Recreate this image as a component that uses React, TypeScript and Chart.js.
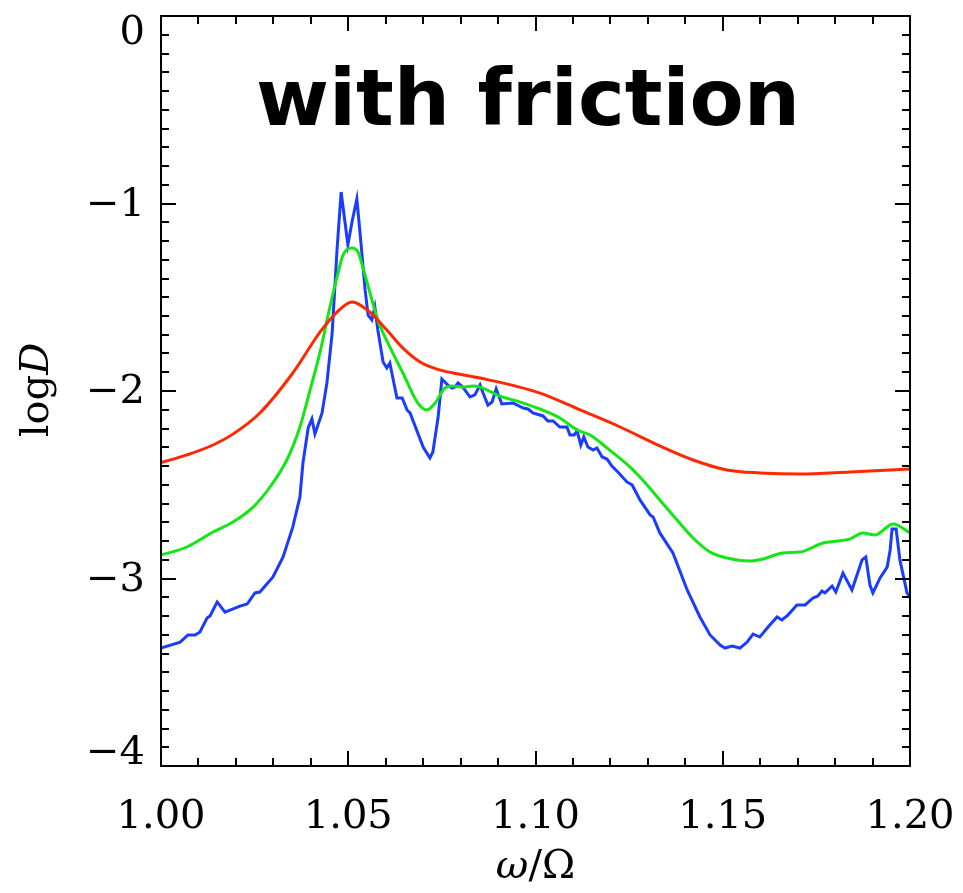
import React, { useEffect, useRef } from 'react';
import { Chart, registerables } from 'chart.js';

Chart.register(...registerables);

const TITLE = 'with friction';
const X_MIN = 1.0;
const X_MAX = 1.2;
const Y_MIN = -4;
const Y_MAX = 0;
const Y_TICKS = [0, -1, -2, -3, -4];

const redX = [1.0000, 1.0069, 1.0139, 1.0192, 1.0264, 1.0352, 1.0425, 1.0470, 1.0510, 1.0558, 1.0603, 1.0646, 1.0692, 1.0737, 1.0780, 1.0852, 1.1012, 1.1119, 1.1226, 1.1332, 1.1421, 1.1511, 1.1599, 1.1706, 1.1840, 1.2000];
const redY = [-2.382, -2.341, -2.288, -2.230, -2.117, -1.904, -1.685, -1.579, -1.525, -1.580, -1.675, -1.771, -1.845, -1.883, -1.904, -1.931, -2.011, -2.101, -2.192, -2.293, -2.368, -2.421, -2.437, -2.443, -2.432, -2.416];

const greenX = [
  1.0000, 1.0069, 1.0139, 1.0192, 1.0246, 1.0291, 1.0336, 1.0371, 1.0398, 1.0425,
  1.0451, 1.0470, 1.0486, 1.0510, 1.0526, 1.0539, 1.0558, 1.0579, 1.0611, 1.0646,
  1.0684, 1.0710, 1.0732, 1.0758, 1.0780, 1.0806, 1.0833, 1.0852, 1.0905, 1.0959,
  1.1012, 1.1065, 1.1111, 1.1146, 1.1191, 1.1252, 1.1298, 1.1332, 1.1378, 1.1421,
  1.1466, 1.1511, 1.1573, 1.1607, 1.1661, 1.1706, 1.1768, 1.1840, 1.1874, 1.1907,
  1.1955, 1.2000,
];
const greenY = [
  -2.875, -2.832, -2.752, -2.699, -2.619, -2.512, -2.368, -2.192, -1.995, -1.790,
  -1.552, -1.392, -1.275, -1.237, -1.259, -1.339, -1.477, -1.621, -1.765, -1.904,
  -2.059, -2.101, -2.064, -1.984, -1.973, -1.979, -1.973, -1.979, -2.027, -2.059,
  -2.096, -2.144, -2.208, -2.235, -2.304, -2.405, -2.501, -2.581, -2.688, -2.784,
  -2.859, -2.891, -2.907, -2.896, -2.864, -2.859, -2.811, -2.789, -2.757, -2.768,
  -2.709, -2.757,
];

const blueX = [
  1.0000, 1.0051, 1.0072, 1.0091, 1.0104, 1.0123, 1.0131, 1.0150, 1.0171, 1.0211,
  1.0230, 1.0251, 1.0264, 1.0299, 1.0326, 1.0352, 1.0371, 1.0379, 1.0393, 1.0403,
  1.0411, 1.0430, 1.0443, 1.0457, 1.0470, 1.0481, 1.0499, 1.0510, 1.0523, 1.0534,
  1.0545, 1.0553, 1.0563, 1.0571, 1.0579, 1.0593, 1.0603, 1.0611, 1.0630, 1.0644,
  1.0657, 1.0665, 1.0700, 1.0718, 1.0726, 1.0740, 1.0750, 1.0766, 1.0777, 1.0785,
  1.0793, 1.0806, 1.0825, 1.0838, 1.0852, 1.0860, 1.0873, 1.0884, 1.0895, 1.0910,
  1.0940, 1.0967, 1.0980, 1.0993, 1.1020, 1.1033, 1.1047, 1.1065, 1.1084, 1.1092,
  1.1103, 1.1111, 1.1121, 1.1129, 1.1140, 1.1154, 1.1164, 1.1178, 1.1191, 1.1204,
  1.1220, 1.1244, 1.1258, 1.1279, 1.1306, 1.1314, 1.1332, 1.1367, 1.1405, 1.1439,
  1.1466, 1.1493, 1.1506, 1.1525, 1.1546, 1.1565, 1.1581, 1.1599, 1.1621, 1.1645,
  1.1658, 1.1674, 1.1698, 1.1720, 1.1741, 1.1754, 1.1765, 1.1773, 1.1792, 1.1802,
  1.1821, 1.1845, 1.1872, 1.1882, 1.1893, 1.1901, 1.1920, 1.1939, 1.1947, 1.1952,
  1.1963, 1.1973, 1.1992, 1.2000,
];
const blueY = [
  -3.371, -3.339, -3.301, -3.301, -3.285, -3.211, -3.200, -3.125, -3.179, -3.147,
  -3.136, -3.077, -3.072, -2.992, -2.885, -2.725, -2.565, -2.384, -2.197, -2.149,
  -2.229, -2.117, -1.957, -1.691, -1.248, -0.939, -1.221, -1.099, -0.976, -1.211,
  -1.461, -1.595, -1.621, -1.552, -1.675, -1.845, -1.877, -1.851, -2.037, -2.037,
  -2.101, -2.117, -2.299, -2.357, -2.325, -2.139, -1.936, -1.968, -1.984, -1.979,
  -1.957, -1.979, -2.032, -2.021, -1.968, -2.011, -2.075, -2.059, -1.989, -2.069,
  -2.064, -2.091, -2.096, -2.117, -2.133, -2.160, -2.160, -2.192, -2.192, -2.235,
  -2.235, -2.213, -2.288, -2.245, -2.299, -2.315, -2.304, -2.352, -2.363, -2.400,
  -2.432, -2.485, -2.501, -2.581, -2.661, -2.672, -2.757, -2.864, -3.061, -3.205,
  -3.301, -3.355, -3.371, -3.360, -3.371, -3.339, -3.296, -3.312, -3.259, -3.205,
  -3.221, -3.195, -3.141, -3.141, -3.104, -3.093, -3.067, -3.077, -3.040, -3.072,
  -2.971, -3.061, -2.901, -2.885, -3.035, -3.077, -2.997, -2.939, -2.848, -2.736,
  -2.736, -2.901, -3.077, -3.099,
];

const toPts = (xs: number[], ys: number[]) => xs.map((x, i) => ({ x, y: ys[i] }));

const SERIF = '"DejaVu Serif", serif';

const fmtY = (v: number) => (v === 0 ? '0' : '−' + Math.abs(v));

const framePlugin = {
  id: 'idlFrame',
  afterDraw(chart: any) {
    const { ctx, chartArea: a, scales } = chart;
    const xs = scales.x;
    const ys = scales.y;
    ctx.save();
    ctx.strokeStyle = '#000';
    ctx.lineWidth = 2;
    ctx.lineCap = 'butt';
    ctx.strokeRect(a.left, a.top, a.right - a.left, a.bottom - a.top);
    ctx.beginPath();
    for (let i = 0; i <= 20; i++) {
      const v = X_MIN + i * 0.01;
      const px = Math.round(xs.getPixelForValue(v));
      const len = i % 5 === 0 ? 15 : 8;
      ctx.moveTo(px, a.bottom);
      ctx.lineTo(px, a.bottom - len);
      ctx.moveTo(px, a.top);
      ctx.lineTo(px, a.top + len);
    }
    for (let i = 0; i <= 40; i++) {
      const v = Y_MAX - i * 0.1;
      const py = Math.round(ys.getPixelForValue(v));
      const len = i % 10 === 0 ? 15 : 8;
      ctx.moveTo(a.left, py);
      ctx.lineTo(a.left + len, py);
      ctx.moveTo(a.right, py);
      ctx.lineTo(a.right - len, py);
    }
    ctx.stroke();

    // y tick labels (kept inside the frame's vertical extent, as in the original)
    ctx.fillStyle = '#000';
    ctx.font = '40px ' + SERIF;
    ctx.textAlign = 'right';
    ctx.textBaseline = 'middle';
    for (const v of Y_TICKS) {
      let py = ys.getPixelForValue(v);
      if (v === Y_MAX) py += 16;
      if (v === Y_MIN) py -= 14;
      ctx.fillText(fmtY(v), a.left - 16, py + 2);
    }

    // title inside the plot
    ctx.font = 'bold 79px "DejaVu Sans", sans-serif';
    ctx.textAlign = 'center';
    ctx.textBaseline = 'alphabetic';
    ctx.fillText(TITLE, 528, 125);

    // x axis title: italic omega / Omega
    ctx.textAlign = 'left';
    const fItal = 'italic 40px ' + SERIF;
    const fUp = '40px ' + SERIF;
    ctx.font = fItal;
    const w1 = ctx.measureText('ω').width;
    ctx.font = fUp;
    const w2 = ctx.measureText('/Ω').width;
    const cx = (a.left + a.right) / 2;
    const x0 = cx - (w1 + w2) / 2;
    ctx.font = fItal;
    ctx.fillText('ω', x0, 878);
    ctx.font = fUp;
    ctx.fillText('/Ω', x0 + w1, 878);

    // y axis title: log D rotated
    ctx.save();
    ctx.translate(48, 390);
    ctx.rotate(-Math.PI / 2);
    ctx.font = fUp;
    const l1 = ctx.measureText('log').width;
    ctx.font = fItal;
    const l2 = ctx.measureText('D').width;
    const s0 = -(l1 + l2) / 2;
    ctx.font = fUp;
    ctx.fillText('log', s0, 0);
    ctx.font = fItal;
    ctx.fillText('D', s0 + l1, 0);
    ctx.restore();

    ctx.restore();
  },
};

export default function App() {
  const ref = useRef<HTMLCanvasElement | null>(null);

  useEffect(() => {
    document.body.style.margin = '0';
    const canvas = ref.current;
    if (!canvas) return;
    const chart = new Chart(canvas, {
      type: 'line',
      data: {
        datasets: [
          {
            label: 'red',
            data: toPts(redX, redY),
            borderColor: 'rgb(255,40,0)',
            borderWidth: 3,
            pointRadius: 0,
            cubicInterpolationMode: 'monotone',
            fill: false,
          },
          {
            label: 'green',
            data: toPts(greenX, greenY),
            borderColor: 'rgb(20,230,20)',
            borderWidth: 3,
            pointRadius: 0,
            cubicInterpolationMode: 'monotone',
            fill: false,
          },
          {
            label: 'blue',
            data: toPts(blueX, blueY),
            borderColor: 'rgb(25,60,255)',
            borderWidth: 3,
            pointRadius: 0,
            tension: 0,
            fill: false,
          },
        ],
      },
      options: {
        responsive: false,
        animation: false,
        devicePixelRatio: 1,
        layout: { padding: { top: 16, right: 53, left: 0, bottom: 0 } },
        plugins: {
          legend: { display: false },
          tooltip: { enabled: false },
          title: { display: false },
        },
        scales: {
          x: {
            type: 'linear',
            min: X_MIN,
            max: X_MAX,
            grid: { display: false, drawTicks: false },
            border: { display: false },
            ticks: {
              stepSize: 0.05,
              autoSkip: false,
              maxRotation: 0,
              padding: 28,
              color: '#000',
              font: { family: SERIF, size: 40 },
              callback: (v: any) => Number(v).toFixed(2),
            },
            afterFit: (s: any) => {
              s.height = 127;
              s.paddingLeft = 0;
              s.paddingRight = 0;
            },
          },
          y: {
            type: 'linear',
            min: Y_MIN,
            max: Y_MAX,
            grid: { display: false, drawTicks: false },
            border: { display: false },
            ticks: {
              display: false,
              stepSize: 1,
            },
            afterFit: (s: any) => {
              s.width = 161;
              s.paddingTop = 0;
              s.paddingBottom = 0;
            },
          },
        },
      },
      plugins: [framePlugin],
    });
    return () => chart.destroy();
  }, []);

  return <canvas ref={ref} width={963} height={893} style={{ display: 'block' }} />;
}
